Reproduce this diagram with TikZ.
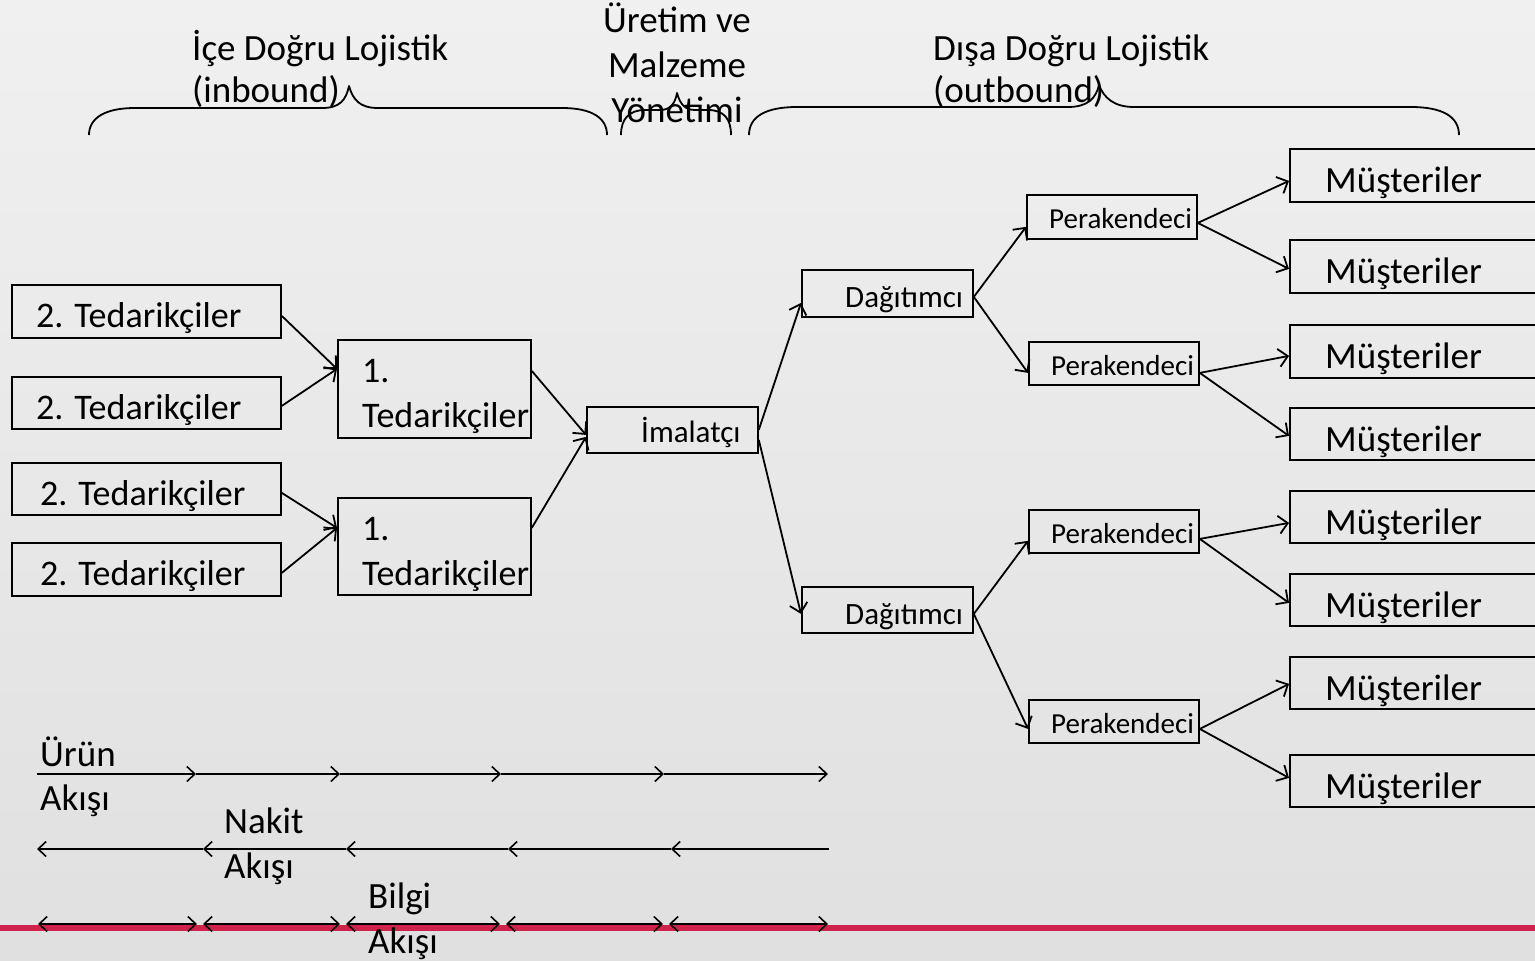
\documentclass[tikz,border=0pt]{standalone}
\usepackage{fontspec}
\setmainfont{Carlito}
\usetikzlibrary{arrows.meta,calc}
\definecolor{bgtop}{RGB}{240,240,240}
\definecolor{bgbot}{RGB}{224,224,224}
\definecolor{redline}{RGB}{208,34,74}
\begin{document}
\begin{tikzpicture}[x=1pt,y=-1pt,
  box/.style={draw=black,line width=1.8pt,inner sep=0pt,anchor=north west},
  lbl/.style={anchor=base west,inner sep=0pt,font=\fontsize{37}{44}\selectfont},
  lblc/.style={anchor=base,inner sep=0pt,font=\fontsize{37}{44}\selectfont},
  lblt/.style={anchor=base west,inner sep=0pt,font=\fontsize{36}{43}\selectfont},
  lblm/.style={anchor=base west,inner sep=0pt,font=\fontsize{31}{37}\selectfont},
  lbls/.style={anchor=base west,inner sep=0pt,font=\fontsize{29}{35}\selectfont},
  con/.style={line width=1.8pt,-{Straight Barb[length=9pt,width=18pt,line width=1.8pt]}},
  flow/.style={line width=1.6pt,-{Straight Barb[length=8pt,width=15pt,line width=1.6pt]}},
  flowb/.style={line width=1.6pt,{Straight Barb[length=8pt,width=15pt,line width=1.6pt]}-{Straight Barb[length=8pt,width=15pt,line width=1.6pt]}},
  bracket/.style={line width=1.8pt,line join=round}
]
\useasboundingbox (0,0) rectangle (1535,961);
\shade[top color=bgtop,bottom color=bgbot] (0,0) rectangle (1535,961);

% ---- top braces and labels
\draw[bracket] (89,135) .. controls (89,118) and (105,108) .. (135,108) -- (322,108)
  .. controls (340,108) and (346,100) .. (349,86) .. controls (353,100) and (360,108) .. (378,108)
  -- (562,108) .. controls (592,108) and (607,118) .. (607,135);
\draw[bracket] (621,135) .. controls (621,119) and (629,110) .. (645,110) -- (660,110)
  .. controls (670,110) and (675,104) .. (677,93) .. controls (680,104) and (685,110) .. (695,110)
  -- (708,110) .. controls (724,110) and (731,119) .. (731,135);
\draw[bracket] (749,135) .. controls (749,117) and (765,107) .. (797,107) -- (1068,107)
  .. controls (1088,107) and (1096,98) .. (1099,85) .. controls (1104,98) and (1114,107) .. (1134,107)
  -- (1411,107) .. controls (1443,107) and (1459,117) .. (1459,135);

\node[lbl] (in1) at (192,60) {İçe Doğru Lojistik};
\node[lbl] (in2) at (192,102) {(inbound)};
\node[lblc] (mid1) at (677,32) {Üretim ve};
\node[lblc] (mid2) at (677,77) {Malzeme};
\node[lblc] (mid3) at (677,122) {Yönetimi};
\node[lbl] (out1) at (933,60) {Dışa Doğru Lojistik};
\node[lbl] (out2) at (933,102) {(outbound)};

% ---- 2. Tedarikçiler
\node[box,minimum width=269pt,minimum height=53pt] (t1) at (11,284) {};
\node[box,minimum width=269pt,minimum height=52pt] (t2) at (11,376) {};
\node[box,minimum width=269pt,minimum height=52pt] (t3) at (11,462) {};
\node[box,minimum width=269pt,minimum height=53pt] (t4) at (11,542) {};
\node[lblt] (t1l) at (36,327) {2. Tedarikçiler};
\node[lblt] (t2l) at (36,419) {2. Tedarikçiler};
\node[lblt] (t3l) at (40,505) {2. Tedarikçiler};
\node[lblt] (t4l) at (40,585) {2. Tedarikçiler};

% ---- 1. Tedarikçiler
\node[box,minimum width=193pt,minimum height=98pt] (f1) at (337,339) {};
\node[box,minimum width=193pt,minimum height=97pt] (f2) at (337,497) {};
\node[lblt] (f1a) at (362,382) {1.};
\node[lblt] (f1b) at (362,427) {Tedarikçiler};
\node[lblt] (f2a) at (362,540) {1.};
\node[lblt] (f2b) at (362,585) {Tedarikçiler};

% ---- İmalatçı
\node[box,minimum width=171pt,minimum height=46pt] (im) at (586,406) {};
\node[lblm] (iml) at (641,442) {İmalatçı};

% ---- Dağıtımcı
\node[box,minimum width=171pt,minimum height=47pt] (d1) at (801,269) {};
\node[box,minimum width=171pt,minimum height=46pt] (d2) at (801,586) {};
\node[lblm] (d1l) at (845,307) {Dağıtımcı};
\node[lblm] (d2l) at (845,624) {Dağıtımcı};

% ---- Perakendeci
\node[box,minimum width=170pt,minimum height=44pt] (p1) at (1026,194) {};
\node[box,minimum width=170pt,minimum height=43pt] (p2) at (1028,341) {};
\node[box,minimum width=170pt,minimum height=43pt] (p3) at (1028,509) {};
\node[box,minimum width=170pt,minimum height=43pt] (p4) at (1028,699) {};
\node[lbls] (p1l) at (1049,228) {Perakendeci};
\node[lbls] (p2l) at (1051,375) {Perakendeci};
\node[lbls] (p3l) at (1051,543) {Perakendeci};
\node[lbls] (p4l) at (1051,733) {Perakendeci};

% ---- Müşteriler
\node[box,minimum width=300pt,minimum height=53pt] (m1) at (1289,148) {};
\node[box,minimum width=300pt,minimum height=53pt] (m2) at (1289,239) {};
\node[box,minimum width=300pt,minimum height=53pt] (m3) at (1289,324) {};
\node[box,minimum width=300pt,minimum height=52pt] (m4) at (1289,407) {};
\node[box,minimum width=300pt,minimum height=52pt] (m5) at (1289,490) {};
\node[box,minimum width=300pt,minimum height=52pt] (m6) at (1289,573) {};
\node[box,minimum width=300pt,minimum height=52pt] (m7) at (1289,656) {};
\node[box,minimum width=300pt,minimum height=52pt] (m8) at (1289,754) {};
\node[lbl] (m1l) at (1325,192) {Müşteriler};
\node[lbl] (m2l) at (1325,283) {Müşteriler};
\node[lbl] (m3l) at (1325,368) {Müşteriler};
\node[lbl] (m4l) at (1325,451) {Müşteriler};
\node[lbl] (m5l) at (1325,534) {Müşteriler};
\node[lbl] (m6l) at (1325,617) {Müşteriler};
\node[lbl] (m7l) at (1325,700) {Müşteriler};
\node[lbl] (m8l) at (1325,798) {Müşteriler};

% ---- connectors
\draw[con] ($(t1.east)+(0,4.5)$) -- ($(f1.west)+(0,-20)$);
\draw[con] ($(t2.east)+(0,3)$) -- ($(f1.west)+(0,-20)$);
\draw[con] ($(t3.east)+(0,4)$) -- ($(f2.west)+(0,-18.5)$);
\draw[con] ($(t4.east)+(0,3.5)$) -- ($(f2.west)+(0,-18.5)$);
\draw[con] ($(f1.east)+(0,-18)$) -- ($(im.west)+(0,5)$);
\draw[con] ($(f2.east)+(0,-18.5)$) -- ($(im.west)+(0,7)$);
\draw[con] ($(im.east)+(0,0)$) -- ($(d1.west)+(0,9.5)$);
\draw[con] ($(im.east)+(0,10)$) -- ($(d2.west)+(0,4)$);
\draw[con] ($(d1.east)+(0,3.5)$) -- ($(p1.west)+(0,10)$);
\draw[con] ($(d1.east)+(0,3.5)$) -- ($(p2.west)+(0,9.5)$);
\draw[con] ($(d2.east)+(0,4)$) -- ($(p3.west)+(0,9.5)$);
\draw[con] ($(d2.east)+(0,4)$) -- ($(p4.west)+(0,7.5)$);
\draw[con] ($(p1.east)+(0,6)$) -- ($(m1.west)+(0,5.5)$);
\draw[con] ($(p1.east)+(0,6)$) -- ($(m2.west)+(0,2.5)$);
\draw[con] ($(p2.east)+(0,9.5)$) -- ($(m3.west)+(0,4.5)$);
\draw[con] ($(p2.east)+(0,9.5)$) -- ($(m4.west)+(0,2)$);
\draw[con] ($(p3.east)+(0,7.5)$) -- ($(m5.west)+(0,6)$);
\draw[con] ($(p3.east)+(0,7.5)$) -- ($(m6.west)+(0,3)$);
\draw[con] ($(p4.east)+(0,7.5)$) -- ($(m7.west)+(0,1)$);
\draw[con] ($(p4.east)+(0,7.5)$) -- ($(m8.west)+(0,-3)$);

% ---- bottom flows
\draw[redline,line width=6pt] (0,927.5) -- (1535,927.5);

\node[lbl] (ur1) at (40,766) {Ürün};
\node[lbl] (ur2) at (40,810) {Akışı};
\node[lbl] (nk1) at (224,833) {Nakit};
\node[lbl] (nk2) at (224,878) {Akışı};
\node[lbl] (bg1) at (368,908) {Bilgi};
\node[lbl] (bg2) at (368,953) {Akışı};

\coordinate (u0) at (37,774);  \coordinate (u1) at (196,774);
\coordinate (u2) at (340,774); \coordinate (u3) at (501,774);
\coordinate (u4) at (664,774); \coordinate (u5) at (828,774);
\draw[flow] (u0) -- (u1);
\draw[flow] (u1) -- (u2);
\draw[flow] (u2) -- (u3);
\draw[flow] (u3) -- (u4);
\draw[flow] (u4) -- (u5);

\coordinate (n0) at (37,849);  \coordinate (n1) at (203,849);
\coordinate (n2) at (346,849); \coordinate (n3) at (508,849);
\coordinate (n4) at (671,849); \coordinate (n5) at (829,849);
\draw[flow] (n5) -- (n4);
\draw[flow] (n4) -- (n3);
\draw[flow] (n3) -- (n2);
\draw[flow] (n2) -- (n1);
\draw[flow] (n1) -- (n0);

\coordinate (b0) at (38,924);   \coordinate (b1) at (197,924);
\coordinate (b2) at (203,924);  \coordinate (b3) at (340,924);
\coordinate (b4) at (346,924);  \coordinate (b5) at (500,924);
\coordinate (b6) at (506,924);  \coordinate (b7) at (663,924);
\coordinate (b8) at (669,924);  \coordinate (b9) at (828,924);
\draw[flowb] (b0) -- (b1);
\draw[flowb] (b2) -- (b3);
\draw[flowb] (b4) -- (b5);
\draw[flowb] (b6) -- (b7);
\draw[flowb] (b8) -- (b9);
\end{tikzpicture}
\end{document}
